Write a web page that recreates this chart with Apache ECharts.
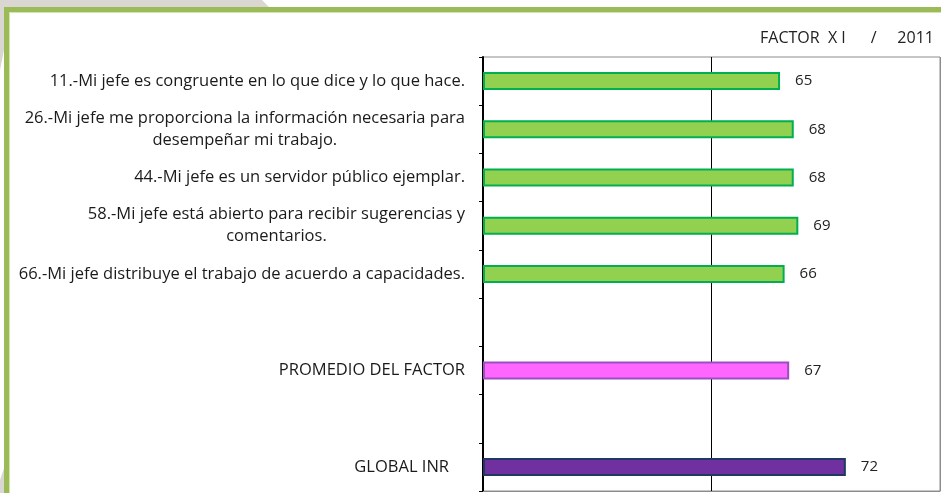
<!DOCTYPE html>
<html>
<head>
<meta charset="utf-8">
<script src="https://cdn.jsdelivr.net/npm/echarts@6/dist/echarts.min.js"></script>
<style>
  html, body { margin: 0; padding: 0; background: #fff; }
  #container { width: 941px; height: 493px; }
</style>
</head>
<body>
<div id="container"></div>
<script>
// datos
const categorias = [
	'11.-Mi jefe es congruente en lo que dice y lo que hace.',
	'26.-Mi jefe me proporciona la información necesaria para\ndesempeñar mi trabajo.',
	'44.-Mi jefe es un servidor público ejemplar.',
	'58.-Mi jefe está abierto para recibir sugerencias y\ncomentarios.',
	'66.-Mi jefe distribuye el trabajo de acuerdo a capacidades.',
	'',
	'PROMEDIO DEL FACTOR',
	'',
	'GLOBAL INR'
];
// largo de cada barra (la de GLOBAL INR llega mas lejos que su etiqueta)
const valores = [65, 68, 68, 69, 66, null, 67, null, 79.4];
const etiquetas = ['65', '68', '68', '69', '66', '', '67', '', '72'];
const tipos = ['reactivo', 'reactivo', 'reactivo', 'reactivo', 'reactivo', '', 'promedio', '', 'global'];
const ejeMin = 0, ejeMax = 100, ejeIntervalo = 50;
const titulo = 'FACTOR  X I      /     2011';

const colores = {
	reactivo: { color: '#92D050', borderColor: '#00B050' },
	promedio: { color: '#FF66FF', borderColor: '#9B4FBF' },
	global: { color: '#7030A0', borderColor: '#1F3864' }
};

const fuente = '"Open Sans", "Liberation Sans", Arial, sans-serif';

function obtenerGrafica() {
	var dom = document.getElementById("container");
	var chart = echarts.init(dom, null, { renderer: 'canvas' });

	let data = valores.map((v, i) => {
		if (v === null) return '-';
		return { value: v, itemStyle: colores[tipos[i]] };
	});

	const option = {
		animation: false,
		title: {
			text: titulo,
			left: 755,
			top: 25,
			textStyle: { fontFamily: fuente, fontSize: 16, fontWeight: 'normal', color: '#222' }
		},
		graphic: [
			{ type: 'polygon', silent: true, shape: { points: [[0, 0], [262, 0], [270, 8], [0, 8]] }, style: { fill: '#DAD7D2' } },
			{ type: 'polygon', silent: true, shape: { points: [[0, 0], [4, 0], [4, 50], [0, 70]] }, style: { fill: '#DAD7D2' } },
			{ type: 'polygon', silent: true, shape: { points: [[0, 493], [4, 493], [4, 468], [0, 480]] }, style: { fill: '#DAD7D2' } },
			{ type: 'rect', silent: true, shape: { x: 4, y: 7, width: 937, height: 5 }, style: { fill: '#9BBB59' } },
			{ type: 'rect', silent: true, shape: { x: 4, y: 7, width: 5, height: 486 }, style: { fill: '#9BBB59' } },
			{ type: 'rect', silent: true, shape: { x: 9, y: 12, width: 1, height: 481 }, style: { fill: '#D3E4B0' } },
			{ type: 'rect', silent: true, shape: { x: 9, y: 12, width: 932, height: 1 }, style: { fill: '#D3E4B0' } }
		],
		grid: {
			left: 483,
			right: 1,
			top: 57,
			bottom: 2,
			show: true,
			borderColor: '#8C8C8C',
			borderWidth: 1
		},
		xAxis: {
			type: 'value',
			min: ejeMin,
			max: ejeMax,
			interval: ejeIntervalo,
			axisLabel: { show: false },
			axisTick: { show: false },
			axisLine: { show: true, lineStyle: { color: '#8C8C8C', width: 1 } },
			splitLine: { show: true, lineStyle: { color: ['#000', '#000', '#8C8C8C'], width: 1 } }
		},
		yAxis: {
			type: 'category',
			inverse: true,
			data: categorias,
			axisLine: { show: true, lineStyle: { color: '#000', width: 2 } },
			axisTick: { show: true, inside: false, length: 4, lineStyle: { color: '#000', width: 1 } },
			axisLabel: {
				interval: 0,
				margin: 18,
				fontFamily: fuente,
				fontSize: 16.5,
				color: '#1a1a1a',
				lineHeight: 22,
				formatter: function (value, idx) {
					if (!value) return '';
					if (value === 'GLOBAL INR') return '{g|' + value + '}';
					return value.split('\n').map(l => '{c|' + l + '}').join('\n');
				},
				rich: {
					c: { align: 'center', fontFamily: fuente, fontSize: 16.5, color: '#1a1a1a', lineHeight: 22 },
					g: { fontFamily: fuente, fontSize: 16.5, color: '#1a1a1a', padding: [0, 16, 0, 0] }
				}
			}
		},
		series: [{
			type: 'bar',
			barWidth: 18,
			data,
			itemStyle: { borderWidth: 2 },
			label: {
				show: true,
				position: 'right',
				distance: 15,
				fontFamily: fuente,
				fontSize: 15,
				color: '#222',
				formatter: function (p) { return etiquetas[p.dataIndex]; }
			}
		}]
	};

	chart.setOption(option, true);
}

obtenerGrafica();
</script>
</body>
</html>
